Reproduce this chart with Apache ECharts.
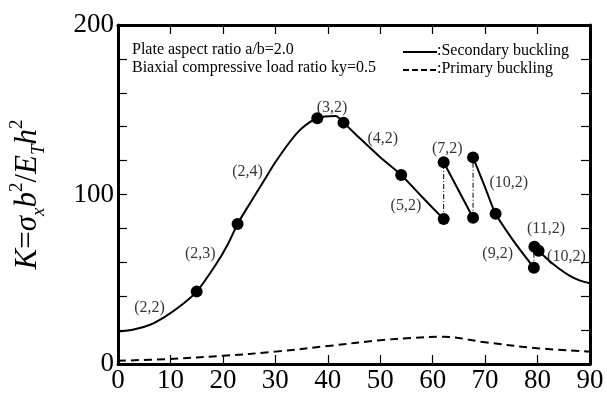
<!DOCTYPE html>
<html>
<head>
<meta charset="utf-8">
<script src="https://cdn.jsdelivr.net/npm/echarts@6/dist/echarts.min.js"></script>
<style>html,body{margin:0;padding:0;background:#fff;}#c{width:607px;height:394px;}</style>
</head>
<body>
<div id="c"></div>
<script>
// ---- data ----
const xTicks = [0, 10, 20, 30, 40, 50, 60, 70, 80, 90];
const yTickLabels = [0, 100, 200];
// Secondary buckling curve pieces
const secondaryA = [[0,19.1],[3,20.3],[6,23],[9,28],[12,34.5],[15,42.7],[18.6,58.4],[21,71],[22.8,82.6],[25,94],[28,109],[30,119],[33,132],[35,139],[38,145],[41.5,146.3],[43,142.4],[46,133.5],[50,122],[54,111.5],[58,98.5],[62.1,85.5]];
const secondaryB = [[62.1,119],[67.7,86.3]];
const secondaryC = [[67.7,121.9],[70,104.2],[72,88.7],[75.8,71],[79.3,56.8]];
const secondaryD = [[79.4,69.2],[80.2,66.8],[82,61.5],[84,56.5],[86,52.3],[88,49.3],[90,47.6]];
// Mode-jump connectors
const jump1 = [[62.1,85.5],[62.1,119]];
const jump2 = [[67.7,86.3],[67.7,121.9]];
const jump3 = [[79.3,56.8],[79.3,69.2]];
// Marked points
const dots = [[15,42.7],[22.8,82.6],[38,145],[43,142.4],[54,111.5],[62.1,119],[62.1,85.5],[67.7,121.9],[67.7,86.3],[72,88.7],[79.4,69.2],[80.2,66.8],[79.3,56.8]];
// Primary buckling
const primary = [[0,1.9],[10,3],[20,4.8],[30,7.3],[40,10.6],[50,14],[56,15.4],[62,16.1],[70,12.8],[80,9.3],[90,7.3]];
// Mode labels
const modeNames = ['(2,2)','(2,3)','(2,4)','(3,2)','(4,2)','(5,2)','(7,2)','(10,2)','(11,2)','(9,2)','(10,2)'];
const modeX = [6.0, 15.7, 24.7, 40.8, 50.5, 54.9, 62.8, 74.5, 81.6, 72.4, 85.5];
const modeY = [32.9, 65.3, 113.4, 151.2, 132.7, 93.2, 126.7, 107, 80, 64.9, 63.3];
const infoLines = ['Plate aspect ratio a/b=2.0', 'Biaxial compressive load ratio ky=0.5'];
const legendNames = [':Secondary buckling', ':Primary buckling'];

const FONT = "'Liberation Serif','Times New Roman',serif";
const chart = echarts.init(document.getElementById('c'));

const solidStyle = {color:'#000', width:2};
function seg(data){
  return {type:'line', data:data, xAxisIndex:0, yAxisIndex:0, smooth:0.25,
    showSymbol:false, symbol:'none', lineStyle:solidStyle, silent:true, z:3};
}
function jump(data){
  return {type:'line', data:data, xAxisIndex:0, yAxisIndex:0, showSymbol:false, symbol:'none',
    lineStyle:{color:'#000', width:1, type:[5,2,1,2]}, silent:true, z:2};
}

const labelData = modeNames.map((n,i)=>({name:n, value:[modeX[i], modeY[i]]}));

const option = {
  animation:false,
  backgroundColor:'#fff',
  grid:{left:115, right:17, top:25, bottom:30, show:false},
  xAxis:[
    {type:'value', min:0, max:90, interval:10, position:'bottom',
     axisLine:{show:true, onZero:false, lineStyle:{color:'#000', width:3}},
     axisTick:{show:true, inside:true, length:9, lineStyle:{color:'#000', width:1.2}},
     axisLabel:{show:true, color:'#000', fontFamily:FONT, fontSize:27, margin:3},
     splitLine:{show:false}},
    {type:'value', min:0, max:90, interval:10, position:'top',
     axisLine:{show:true, onZero:false, lineStyle:{color:'#000', width:3}},
     axisTick:{show:true, inside:true, length:9, lineStyle:{color:'#000', width:1.2}},
     axisLabel:{show:false}, splitLine:{show:false}}
  ],
  yAxis:[
    {type:'value', min:0, max:200, interval:20, position:'left',
     axisLine:{show:true, onZero:false, lineStyle:{color:'#000', width:3}},
     axisTick:{show:true, inside:true, length:9, lineStyle:{color:'#000', width:1.2}},
     axisLabel:{show:true, color:'#000', fontFamily:FONT, fontSize:27, margin:4,
       formatter:v => yTickLabels.indexOf(v) >= 0 ? String(v) : ''},
     splitLine:{show:false},
     name:'{s|K}{n|=}{s|σ}{sub|x}{s|b}{sup|2}{n|/}{s|E}{sub|T}{s|h}{sup|2}',
     nameLocation:'middle', nameGap:70, nameRotate:90,
     nameTextStyle:{color:'#000', fontFamily:FONT, fontSize:31,
       rich:{
         n:{fontFamily:FONT, fontSize:31, color:'#000', verticalAlign:'middle', lineHeight:40},
         s:{fontFamily:FONT, fontStyle:'italic', fontSize:31, color:'#000', verticalAlign:'middle', lineHeight:40},
         sub:{fontFamily:FONT, fontStyle:'italic', fontSize:19, color:'#000', verticalAlign:'bottom', lineHeight:19},
         sup:{fontFamily:FONT, fontSize:19, color:'#000', verticalAlign:'top', lineHeight:19}
       }}},
    {type:'value', min:0, max:200, interval:20, position:'right',
     axisLine:{show:true, onZero:false, lineStyle:{color:'#000', width:3}},
     axisTick:{show:true, inside:true, length:9, lineStyle:{color:'#000', width:1.2}},
     axisLabel:{show:false}, splitLine:{show:false}}
  ],
  series:[
    seg(secondaryA), seg(secondaryB), seg(secondaryC), seg(secondaryD),
    jump(jump1), jump(jump2), jump(jump3),
    {type:'line', data:primary, smooth:0.35, showSymbol:false, symbol:'none',
     lineStyle:{color:'#000', width:2, type:[8,5]}, silent:true, z:3},
    {type:'scatter', data:dots, symbol:'circle', symbolSize:12, itemStyle:{color:'#000', opacity:1}, silent:true, z:5},
    {type:'scatter', data:labelData, symbolSize:0, silent:true, z:6,
     label:{show:true, position:'inside', formatter:p=>p.name, color:'#000', fontFamily:FONT, fontSize:16}}
  ],
  graphic:[
    {type:'text', left:132, top:42, style:{text:infoLines[0], fontFamily:FONT, fontSize:16, fill:'#000'}},
    {type:'text', left:132, top:60, style:{text:infoLines[1], fontFamily:FONT, fontSize:16, fill:'#000'}},
    {type:'line', shape:{x1:403, y1:52, x2:437, y2:52}, style:{stroke:'#000', lineWidth:2}},
    {type:'text', left:437, top:43, style:{text:legendNames[0], fontFamily:FONT, fontSize:16, fill:'#000'}},
    {type:'line', shape:{x1:403, y1:70, x2:437, y2:70}, style:{stroke:'#000', lineWidth:2, lineDash:[6,3]}},
    {type:'text', left:437, top:61, style:{text:legendNames[1], fontFamily:FONT, fontSize:16, fill:'#000'}}
  ]
};
chart.setOption(option);
</script>
</body>
</html>
